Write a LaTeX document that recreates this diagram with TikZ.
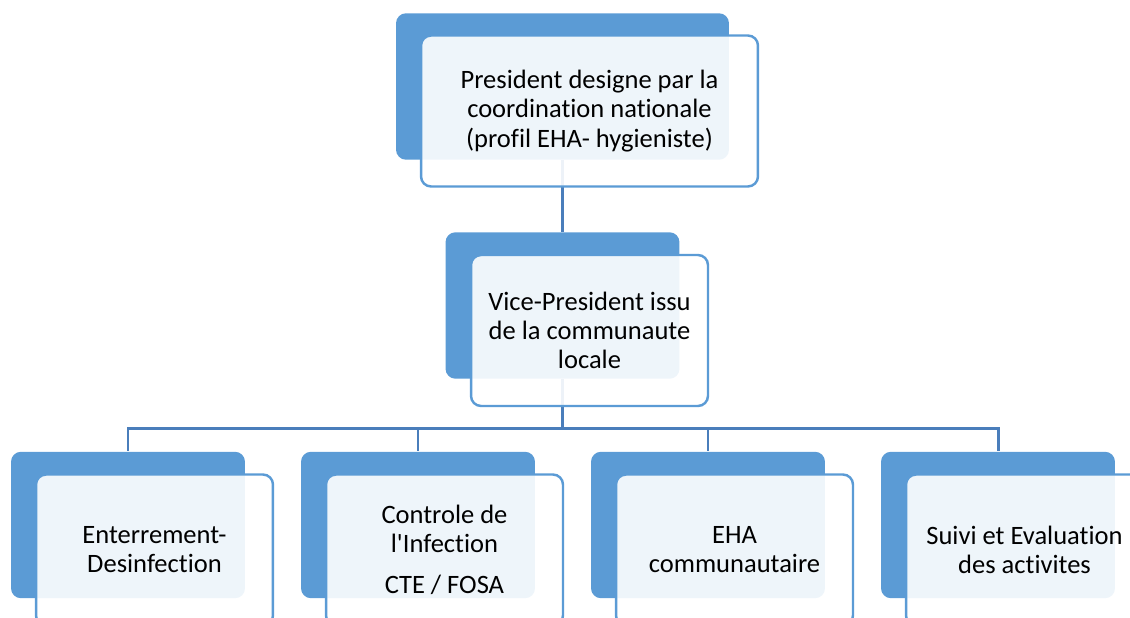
\documentclass[tikz,border=0pt]{standalone}
\usepackage{fontspec}
\setmainfont[Ligatures=NoCommon]{Carlito}
\usetikzlibrary{calc,backgrounds}

\definecolor{boxblue}{HTML}{5B9BD5}
\definecolor{linkblue}{HTML}{4A7EBB}

\tikzset{
  backbox/.style={rectangle,rounded corners=5.7pt,fill=boxblue,
    minimum width=4.68cm,minimum height=2.93cm,inner sep=0pt},
  frontbox/.style={rectangle,rounded corners=5.7pt,draw=boxblue,line width=1.4pt,
    fill=white,fill opacity=0.9,text opacity=1,minimum width=4.74cm,
    minimum height=3.02cm,align=center,inner sep=2pt,
    font=\fontsize{15.1}{16.6}\selectfont},
  link/.style={draw=linkblue,line width=1.7pt}
}

\begin{document}
\begin{tikzpicture}[x=0.02cm,y=-0.02cm]
  \useasboundingbox (0,0) rectangle (1130,618);
  % niveau 1
  \node[backbox,minimum width=6.66cm] (pres) at (562.5,86.5) {};
  \node[frontbox,minimum width=6.74cm] (presT) at ($(pres)+(27,24.5)$)
    {President designe par la\\coordination nationale\\(profil EHA- hygieniste)};
  % niveau 2
  \node[backbox] (vice) at (562.5,305.5) {};
  \node[frontbox] (viceT) at ($(vice)+(27,25)$)
    {Vice-President issu\\de la communaute\\locale};
  % niveau 3
  \node[backbox] (enter) at (128,525) {};
  \node[frontbox] (enterT) at ($(enter)+(26.5,25)$) {Enterrement-\\Desinfection};
  \node[backbox] (contr) at (418,525) {};
  \node[frontbox] (contrT) at ($(contr)+(26.5,25)$)
    {Controle de\\l\textquotesingle Infection\\[7pt]CTE / FOSA};
  \node[backbox] (eha) at (708,525) {};
  \node[frontbox] (ehaT) at ($(eha)+(26.5,25)$) {EHA\\communautaire};
  \node[backbox] (suivi) at (998,525) {};
  \node[frontbox] (suiviT) at ($(suivi)+(26.5,25)$) {Suivi et Evaluation\\des activites};
  % liaisons
  \begin{pgfonlayer}{background}
    \coordinate (bus) at ($(vice.south)+(0,49)$);
    \draw[link] (pres.south) -- (vice.north);
    \draw[link] (vice.south) -- (bus);
    \foreach \n in {enter,contr,eha,suivi}
      \draw[link] (bus) -| (\n.north);
  \end{pgfonlayer}
\end{tikzpicture}
\end{document}
